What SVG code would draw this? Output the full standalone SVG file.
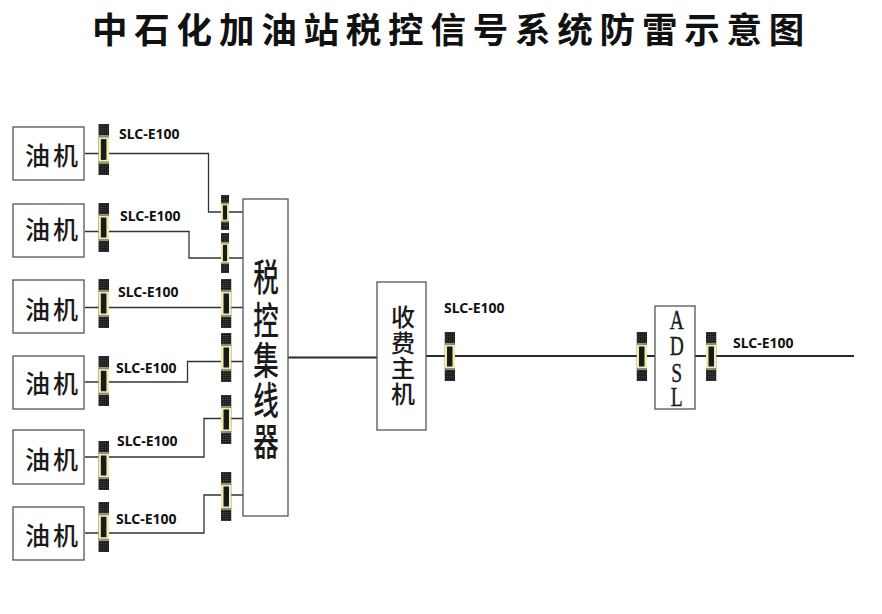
<svg xmlns="http://www.w3.org/2000/svg" xmlns:xlink="http://www.w3.org/1999/xlink" width="882" height="614" viewBox="0 0 882 614">
<style>
.box{fill:#fff;stroke:#555;stroke-width:1.3}
.wire{fill:none;stroke:#333;stroke-width:1.3}
.thick{fill:none;stroke:#2a2a2a;stroke-width:2.2}
.lbl{font-family:"Noto Sans","Open Sans",sans-serif;font-weight:700;font-size:14px;fill:#111}
.cjk{font-family:"Noto Sans CJK SC",sans-serif;fill:#1a1a1a}
.oil{font-size:25px;font-weight:500;letter-spacing:3px}
.col{font-size:29px;font-weight:500;text-anchor:middle}
.col2{font-size:24px;font-weight:500;text-anchor:middle}
.title{font-size:35.5px;font-weight:700;letter-spacing:6.8px;fill:#111}
.adsl{font-family:"Liberation Serif",serif;font-size:25px;text-anchor:middle;fill:#1a1a1a;stroke:#1a1a1a;stroke-width:.35}
</style>
<defs>
<pattern id="dots" width="2" height="2" patternUnits="userSpaceOnUse"><rect width="2" height="2" fill="#1c1c1c"/><rect width="1" height="1" fill="#4a4a4a"/></pattern>
<symbol id="spd" viewBox="0 0 10 49" preserveAspectRatio="none">
<rect width="10" height="49" fill="url(#dots)"/>
<rect x="0" y="11" width="10" height="27" fill="#f0ebae"/>
<rect x="0" y="11" width="10" height="2" fill="#8f8f70"/>
<rect x="0" y="36" width="10" height="2" fill="#8f8f70"/>
<rect x="2.400" y="14.500" width="5.200" height="20" fill="#1a1a1a"/>
</symbol>
</defs>
<rect width="882" height="614" fill="#fff"/>
<text class="cjk title" x="92" y="43">中石化加油站税控信号系统防雷示意图</text>

<g id="connectors">
<path class="wire" d="M85 153.500H208.500V212H243"/>
<path class="wire" d="M85 231.500H189V258H243"/>
<path class="wire" d="M85 307.500H243"/>
<path class="wire" d="M85 382H187.500V361.500H243"/>
<path class="wire" d="M85 457H204V418.500H243"/>
<path class="wire" d="M85 533H204V495H243"/>
<path class="thick" d="M288 357.500H377"/>
<path class="thick" d="M426 356H655"/>
<path class="thick" d="M695 356H854"/>
</g>

<g id="node-oil1"><rect class="box" x="13" y="127" width="71" height="53"/><text class="cjk oil" x="25" y="165">油机</text></g>
<g id="node-oil2"><rect class="box" x="13" y="204" width="71" height="53"/><text class="cjk oil" x="25" y="239">油机</text></g>
<g id="node-oil3"><rect class="box" x="13" y="280" width="71" height="53"/><text class="cjk oil" x="25" y="319">油机</text></g>
<g id="node-oil4"><rect class="box" x="13" y="356" width="71" height="53"/><text class="cjk oil" x="25" y="393">油机</text></g>
<g id="node-oil5"><rect class="box" x="13" y="430" width="71" height="54"/><text class="cjk oil" x="25" y="469">油机</text></g>
<g id="node-oil6"><rect class="box" x="13" y="507" width="71" height="53"/><text class="cjk oil" x="25" y="545">油机</text></g>

<g id="node-hub"><rect class="box" x="243" y="199" width="45" height="317"/>
<text class="cjk col" transform="translate(266 0) scale(.88 1.3)"><tspan x="0" y="223.800">税</tspan><tspan x="0" y="256.900">控</tspan><tspan x="0" y="287.700">集</tspan><tspan x="0" y="318.500">线</tspan><tspan x="0" y="350">器</tspan></text></g>
<g id="node-host"><rect class="box" x="377" y="282" width="49" height="148"/>
<text class="cjk col2"><tspan x="403" y="326">收</tspan><tspan x="403" y="351.500">费</tspan><tspan x="403" y="376.500">主</tspan><tspan x="403" y="402.500">机</tspan></text></g>
<g id="node-adsl"><rect class="box" x="655" y="306" width="40" height="103"/>
<text class="adsl" transform="translate(676.700 0) scale(.78 1.12)"><tspan x="0" y="293.500">A</tspan><tspan x="0" y="317">D</tspan><tspan x="0" y="341">S</tspan><tspan x="0" y="362.500">L</tspan></text></g>

<g id="node-spd-left">
<use xlink:href="#spd" href="#spd" x="98.300" y="124" width="10.700" height="51"/>
<use xlink:href="#spd" href="#spd" x="98.300" y="203" width="10.700" height="49"/>
<use xlink:href="#spd" href="#spd" x="98.300" y="279" width="10.700" height="49"/>
<use xlink:href="#spd" href="#spd" x="98.300" y="356" width="10.700" height="50"/>
<use xlink:href="#spd" href="#spd" x="98.300" y="441" width="10.700" height="49"/>
<use xlink:href="#spd" href="#spd" x="98.300" y="502" width="10.700" height="50"/>
</g>
<g id="node-spd-right">
<use xlink:href="#spd" href="#spd" x="221" y="195" width="8" height="35"/>
<use xlink:href="#spd" href="#spd" x="221" y="233" width="8" height="40"/>
<use xlink:href="#spd" href="#spd" x="221" y="279" width="10.500" height="49"/>
<use xlink:href="#spd" href="#spd" x="221" y="333" width="10.500" height="49"/>
<use xlink:href="#spd" href="#spd" x="221" y="395" width="10.500" height="49"/>
<use xlink:href="#spd" href="#spd" x="221" y="472" width="10.500" height="49"/>
</g>
<g id="node-spd-line">
<use xlink:href="#spd" href="#spd" x="444.500" y="332" width="10.500" height="49"/>
<use xlink:href="#spd" href="#spd" x="636.500" y="332" width="10.500" height="49"/>
<use xlink:href="#spd" href="#spd" x="706" y="332" width="10.500" height="49"/>
</g>

<g id="labels">
<text class="lbl" x="119" y="139">SLC-E100</text>
<text class="lbl" x="120" y="221">SLC-E100</text>
<text class="lbl" x="118" y="297">SLC-E100</text>
<text class="lbl" x="116" y="373">SLC-E100</text>
<text class="lbl" x="117" y="446">SLC-E100</text>
<text class="lbl" x="116" y="524">SLC-E100</text>
<text class="lbl" x="444" y="313">SLC-E100</text>
<text class="lbl" x="733" y="348">SLC-E100</text>
</g>
</svg>
